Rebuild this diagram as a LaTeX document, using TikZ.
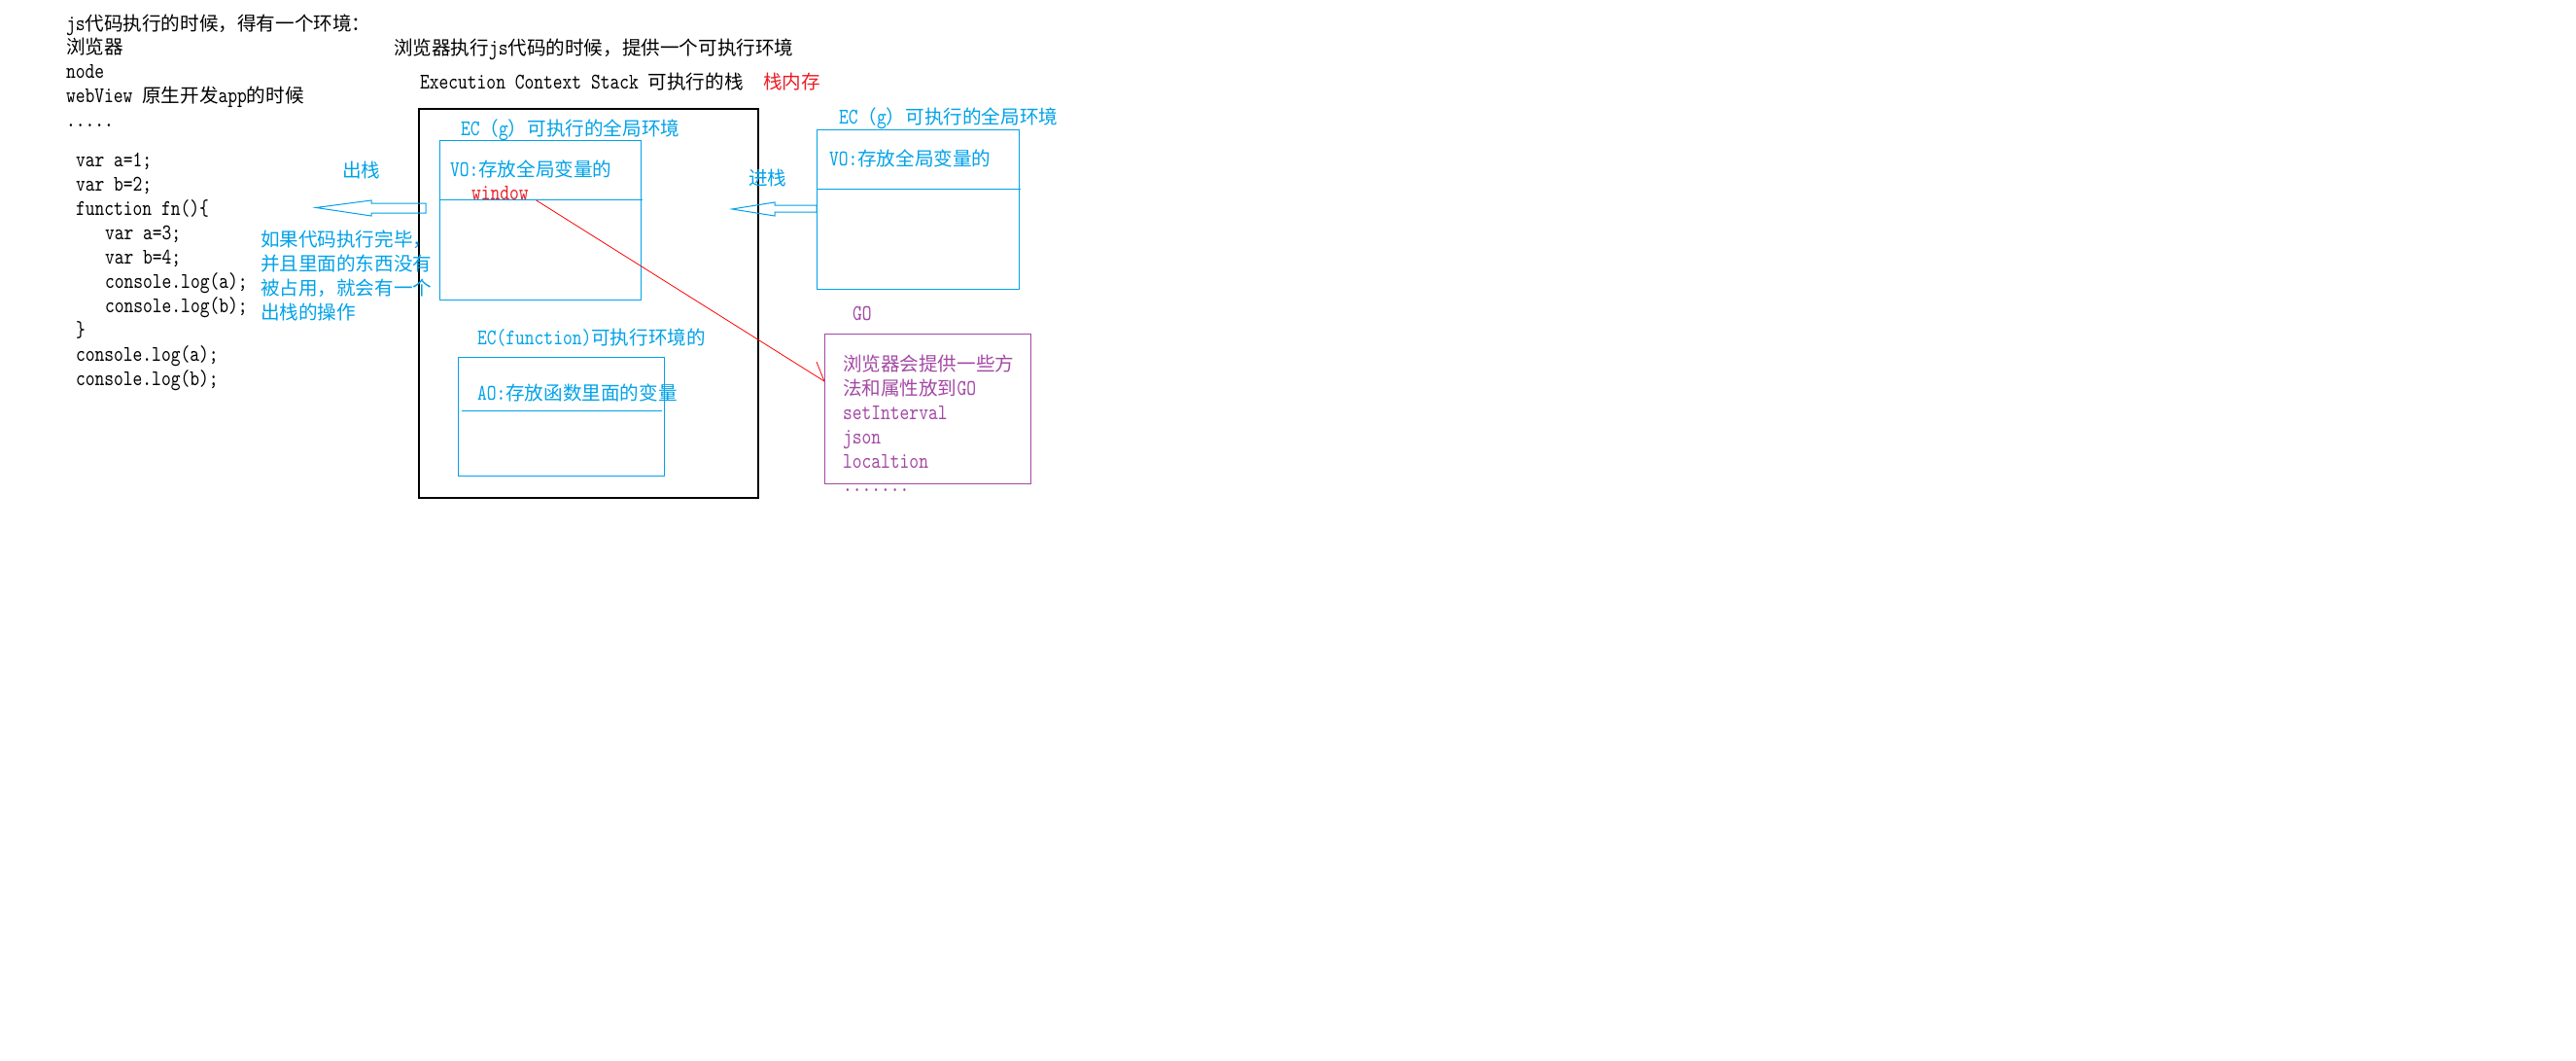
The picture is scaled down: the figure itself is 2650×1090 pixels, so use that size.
\documentclass[tikz,border=0pt]{standalone}
\usepackage{fontspec}
\setmonofont{lmmono10-regular.otf}[FakeStretch=0.81]
\newfontfamily\cjk{Noto Sans CJK SC}[Scale=0.852]
\newcommand\zhs[1]{{\cjk #1}}
\definecolor{pblue}{RGB}{0,162,232}
\definecolor{pred}{RGB}{237,28,36}
\definecolor{ppurple}{RGB}{163,73,164}
\begin{document}
\begin{tikzpicture}[x=1pt,y=-1pt,
  every node/.style={inner sep=0pt,outer sep=0pt,font=\ttfamily\fontsize{23}{25}\selectfont},
  txt/.style={anchor=base west},
  bluetxt/.style={txt,text=pblue},
  purptxt/.style={txt,text=ppurple},
  boxnode/.style={draw,anchor=north west,line width=1pt},
  bluebox/.style={boxnode,draw=pblue},
  divider/.style={draw=pblue,line width=1pt},
  blockarrow/.style={draw=pblue,line width=1pt,line join=miter},
  redline/.style={draw=red,line width=0.8pt}]
\fill[white] (0,0) rectangle (2650,1090);
\useasboundingbox (0,0) rectangle (2650,1090);

% left header
\node[txt] (h1) at (68,31) {js\zhs{代码执行的时候，得有一个环境：}};
\node[txt] (h2) at (68,55) {\zhs{浏览器}};
\node[txt] (h3) at (68,80) {node};
\node[txt] (h4) at (68,105) {webView \zhs{原生开发}app\zhs{的时候}};
\node[txt] (h5) at (68,130) {.....};

% sample code
\node[txt] (c1) at (78,171) {var a=1;};
\node[txt] (c2) at (78,196) {var b=2;};
\node[txt] (c3) at (78,221) {function fn()\{};
\node[txt] (c4) at (108,246) {var a=3;};
\node[txt] (c5) at (108,271) {var b=4;};
\node[txt] (c6) at (108,296) {console.log(a);};
\node[txt] (c7) at (108,321) {console.log(b);};
\node[txt] (c8) at (78,346) {\}};
\node[txt] (c9) at (78,371) {console.log(a);};
\node[txt] (c10) at (78,396) {console.log(b);};

% titles
\node[txt] (t1) at (405,56) {\zhs{浏览器执行}js\zhs{代码的时候，提供一个可执行环境}};
\node[txt] (t2) at (432,91) {Execution Context Stack \zhs{可执行的栈}};
\node[txt,text=pred] (t3) at (785,91) {\zhs{栈内存}};

% execution context stack
\node[boxnode,draw=black,line width=1.2pt,minimum width=349pt,minimum height=400pt] (stack) at (431,112) {};

\node[bluetxt] (ecgt) at (474,139) {EC\zhs{（}g\zhs{）可执行的全局环境}};
\node[bluebox,minimum width=207pt,minimum height=164pt] (ecg) at (452,144) {};
\draw[divider] (ecg.west |- 0,205) -- (661,205);
\node[bluetxt] (vo) at (463,181) {VO:\zhs{存放全局变量的}};
\node[txt,text=pred] (window) at (485,205) {window};

\node[bluetxt] (ecft) at (491,354) {EC(function)\zhs{可执行环境的}};
\node[bluebox,minimum width=212pt,minimum height=122pt] (ecf) at (471,367) {};
\draw[divider] (475,422) -- (681,422);
\node[bluetxt] (ao) at (491,411) {AO:\zhs{存放函数里面的变量}};

% incoming context
\node[bluetxt] (ecg2t) at (863,127) {EC\zhs{（}g\zhs{）可执行的全局环境}};
\node[bluebox,minimum width=208pt,minimum height=164pt] (ecg2) at (840,133) {};
\draw[divider] (ecg2.west |- 0,194) -- (1050,194);
\node[bluetxt] (vo2) at (853,170) {VO:\zhs{存放全局变量的}};

% push / pop
\node[bluetxt] (push) at (770,190) {\zhs{进栈}};
\draw[blockarrow] (753,215) -- (797,208) -- (797,211) -- (ecg2.west |- 0,211)
  -- (ecg2.west |- 0,218) -- (797,218) -- (797,222) -- cycle;
\node[bluetxt] (pop) at (352,182) {\zhs{出栈}};
\draw[blockarrow] (325,213.5) -- (382,206) -- (382,209) -- (438,209)
  -- (438,219) -- (382,219) -- (382,222) -- cycle;
\node[bluetxt] (n1) at (268,253) {\zhs{如果代码执行完毕，}};
\node[bluetxt] (n2) at (268,278) {\zhs{并且里面的东西没有}};
\node[bluetxt] (n3) at (268,303) {\zhs{被占用，就会有一个}};
\node[bluetxt] (n4) at (268,328) {\zhs{出栈的操作}};

% global object
\node[purptxt] (got) at (877,329) {GO};
\node[boxnode,draw=ppurple,minimum width=212pt,minimum height=154pt] (gobox) at (848,343) {};
\node[purptxt] (g1) at (867,381) {\zhs{浏览器会提供一些方}};
\node[purptxt] (g2) at (867,406) {\zhs{法和属性放到}GO};
\node[purptxt] (g3) at (867,431) {setInterval};
\node[purptxt] (g4) at (867,456) {json};
\node[purptxt] (g5) at (867,481) {localtion};
\node[purptxt] (g6) at (867,505) {.......};

% window -> GO
\coordinate (gotip) at ([yshift=-49pt]gobox.north west);
\draw[redline] ([xshift=8pt,yshift=-1pt]window.base east) -- (gotip);
\draw[redline] (gotip) -- ++(-8,-20);
\end{tikzpicture}
\end{document}
